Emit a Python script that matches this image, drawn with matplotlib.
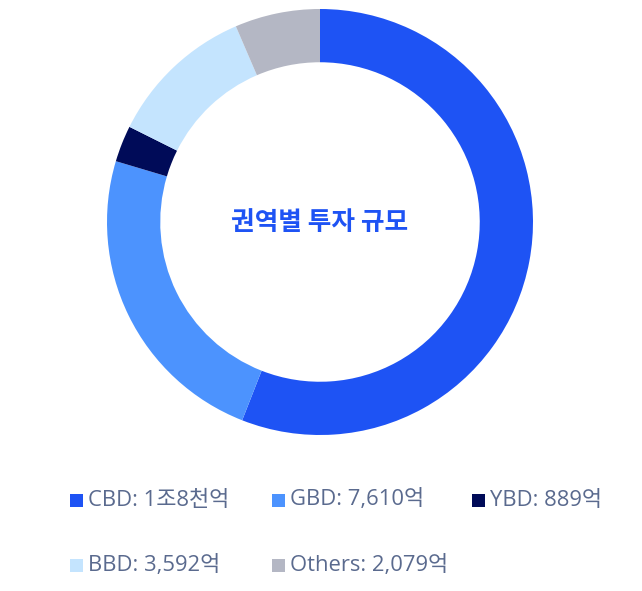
import matplotlib
matplotlib.use("Agg")
import matplotlib.pyplot as plt
from matplotlib.patches import Rectangle

plt.rcParams['font.family'] = ['Open Sans', 'Noto Sans CJK KR', 'DejaVu Sans']

labels = ["CBD", "GBD", "YBD", "BBD", "Others"]
values = [18000, 7610, 889, 3592, 2079]
value_texts = ["1조8천억", "7,610억", "889억", "3,592억", "2,079억"]
colors = ["#1E53F4", "#4C93FE", "#000B58", "#C4E4FE", "#B4B7C4"]
title = "권역별 투자 규모"

W, H = 642, 591
fig = plt.figure(figsize=(W / 100, H / 100), dpi=100)
fig.patch.set_facecolor("white")

cx, cy, r = 320, 222, 213
ax = fig.add_axes([(cx - r) / W, (H - cy - r) / H, 2 * r / W, 2 * r / H])
ax.pie(values, colors=colors, startangle=90, counterclock=False, radius=1.0,
       wedgeprops=dict(width=0.25, edgecolor="none"))
ax.set_xlim(-1, 1)
ax.set_ylim(-1, 1)
ax.set_aspect("equal")
ax.axis("off")
ax.text(0, 0, title, ha="center", va="center", fontsize=18.5, fontweight="bold",
        color="#1E53F4", family=['Noto Sans CJK KR'])

# legend grid
col_x = [70, 272, 472]
row_y = [500, 565]
sq = 13
for i, (lab, vt, c) in enumerate(zip(labels, value_texts, colors)):
    x = col_x[i % 3]
    y = row_y[i // 3]
    fig.patches.append(Rectangle((x / W, (H - y - sq / 2) / H), sq / W, sq / H,
                                 transform=fig.transFigure, facecolor=c, edgecolor="none"))
    fig.text((x + sq + 5) / W, (H - y) / H, f"{lab}: {vt}", ha="left", va="center",
             fontsize=15.8, color="#5A6A8E")

fig.savefig("out.png", dpi=100)
